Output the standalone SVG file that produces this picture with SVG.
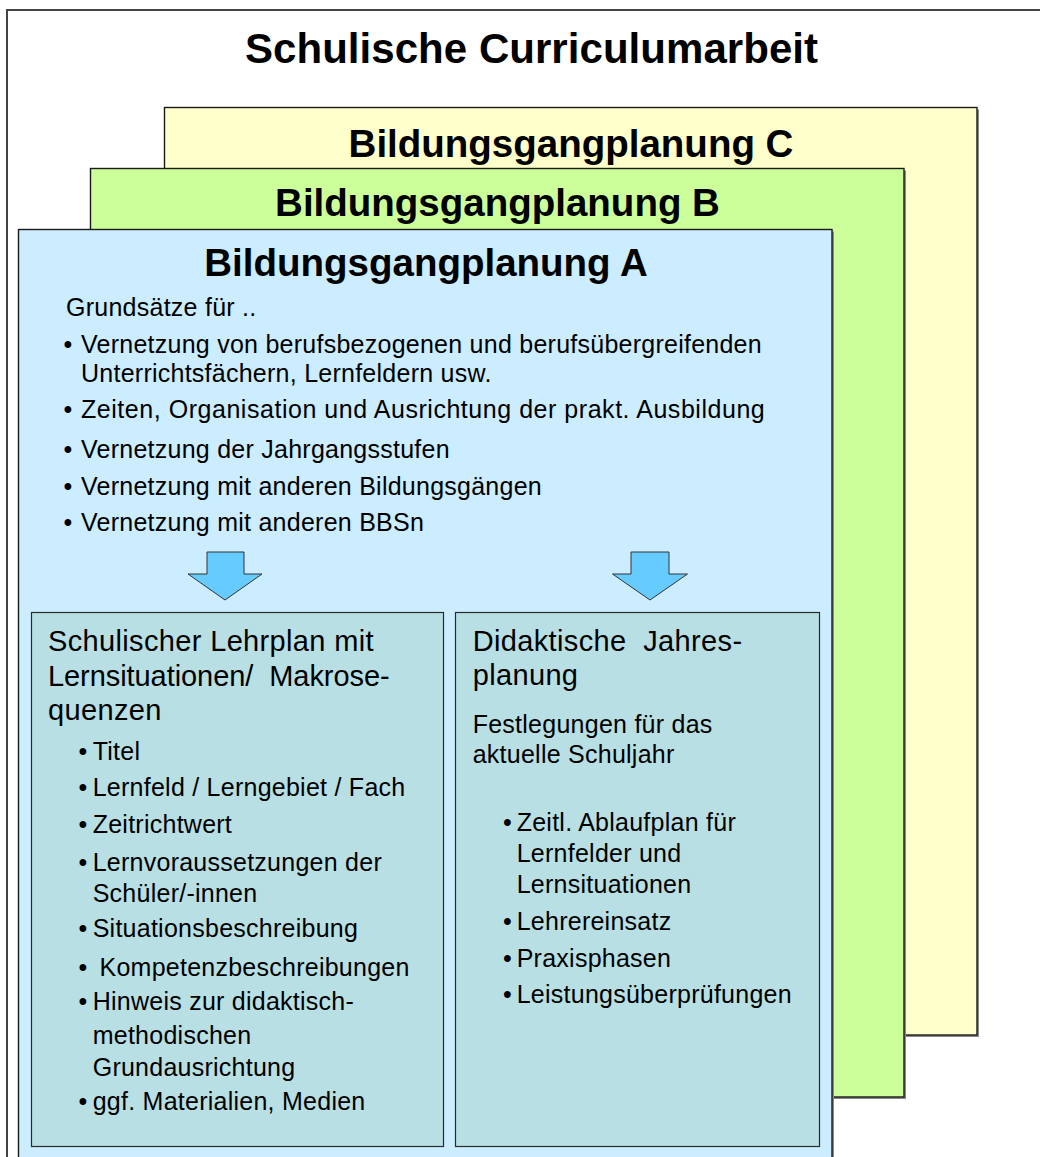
<svg xmlns="http://www.w3.org/2000/svg" width="1040" height="1157" viewBox="0 0 1040 1157">
<style>
text { font-family: "Liberation Sans", Arial, sans-serif; fill: #000; white-space: pre; }
.title { font-size: 42px; font-weight: bold; }
.h { font-size: 38.5px; font-weight: bold; text-anchor: middle; }
.b { font-size: 25px; letter-spacing: 0.25px; }
.hd { font-size: 29px; letter-spacing: 0.35px; }
.box { stroke: #1a1a1a; stroke-width: 1.4; }
.sh { fill: #8a8a8a; }
.inner { fill: #B8DFE3; stroke: #2a2a2a; stroke-width: 1.2; }
.arrow { fill: #66CCFF; stroke: #333; stroke-width: 1; }
</style>
<rect x="0" y="0" width="1040" height="1157" fill="#fff"/>
<rect x="7" y="10" width="1100" height="1200" fill="#fff" stroke="#444" stroke-width="2"/>
<text class="title" x="245" y="63" textLength="573" lengthAdjust="spacing">Schulische Curriculumarbeit</text>

<g id="planung-c">
<rect class="sh" x="166.5" y="109.5" width="812.5" height="927.5"/>
<rect class="box" x="164.5" y="107.5" width="812.5" height="927.5" fill="#FFFFCC"/>
<text class="h" x="571" y="156.5">Bildungsgangplanung C</text>
</g>

<g id="planung-b">
<rect class="sh" x="92.5" y="170.5" width="813.5" height="928.5"/>
<rect class="box" x="90.5" y="168.5" width="813.5" height="928.5" fill="#CCFF99"/>
<text class="h" x="497.5" y="216">Bildungsgangplanung B</text>
</g>

<g id="planung-a">
<rect class="sh" x="20.5" y="231.5" width="813.5" height="1000"/>
<rect class="box" x="18.5" y="229.5" width="813.5" height="1000" fill="#CCECFF"/>
<text class="h" x="426" y="276">Bildungsgangplanung A</text>
<text class="b" x="66" y="316">Grundsätze für ..</text>
<text class="b" x="63.5" y="353">•</text>
<text class="b" x="81" y="353">Vernetzung von berufsbezogenen und berufsübergreifenden</text>
<text class="b" x="81" y="382">Unterrichtsfächern, Lernfeldern usw.</text>
<text class="b" x="63.5" y="418">•</text>
<text class="b" x="81" y="418" textLength="684" lengthAdjust="spacing">Zeiten, Organisation und Ausrichtung der prakt. Ausbildung</text>
<text class="b" x="63.5" y="458">•</text>
<text class="b" x="81" y="458">Vernetzung der Jahrgangsstufen</text>
<text class="b" x="63.5" y="495">•</text>
<text class="b" x="81" y="495">Vernetzung mit anderen Bildungsgängen</text>
<text class="b" x="63.5" y="531">•</text>
<text class="b" x="81" y="531">Vernetzung mit anderen BBSn</text>
</g>

<g id="connectors">
<polygon class="arrow" points="207,552 244,552 244,574 262,574 225,600 188,574 207,574"/>
<polygon class="arrow" points="631,552 669,552 669,574 687.5,574 650,600 612.5,574 631,574"/>
</g>

<g id="lehrplan">
<rect class="inner" x="31.5" y="612.5" width="412" height="534"/>
<text class="hd" x="48" y="651">Schulischer Lehrplan mit</text>
<text class="hd" x="48" y="686" textLength="342" lengthAdjust="spacing">Lernsituationen/  Makrose-</text>
<text class="hd" x="48" y="720">quenzen</text>
<text class="b" x="78.5" y="760">•</text>
<text class="b" x="92.7" y="760">Titel</text>
<text class="b" x="78.5" y="796">•</text>
<text class="b" x="92.7" y="796">Lernfeld / Lerngebiet / Fach</text>
<text class="b" x="78.5" y="833">•</text>
<text class="b" x="92.7" y="833">Zeitrichtwert</text>
<text class="b" x="78.5" y="871">•</text>
<text class="b" x="92.7" y="871">Lernvoraussetzungen der</text>
<text class="b" x="92.7" y="902">Schüler/-innen</text>
<text class="b" x="78.5" y="937">•</text>
<text class="b" x="92.7" y="937">Situationsbeschreibung</text>
<text class="b" x="78.5" y="976">•</text>
<text class="b" x="99.5" y="976">Kompetenzbeschreibungen</text>
<text class="b" x="78.5" y="1010">•</text>
<text class="b" x="92.7" y="1010">Hinweis zur didaktisch-</text>
<text class="b" x="92.7" y="1044">methodischen</text>
<text class="b" x="92.7" y="1076">Grundausrichtung</text>
<text class="b" x="78.5" y="1110">•</text>
<text class="b" x="92.7" y="1110">ggf. Materialien, Medien</text>
</g>

<g id="jahresplanung">
<rect class="inner" x="455.5" y="612.5" width="364" height="534"/>
<text class="hd" x="472.7" y="651">Didaktische  Jahres-</text>
<text class="hd" x="472.7" y="685">planung</text>
<text class="b" x="472.7" y="733">Festlegungen für das</text>
<text class="b" x="472.7" y="763">aktuelle Schuljahr</text>
<text class="b" x="503" y="831">•</text>
<text class="b" x="516.7" y="831">Zeitl. Ablaufplan für</text>
<text class="b" x="516.7" y="862">Lernfelder und</text>
<text class="b" x="516.7" y="893">Lernsituationen</text>
<text class="b" x="503" y="930">•</text>
<text class="b" x="516.7" y="930">Lehrereinsatz</text>
<text class="b" x="503" y="967">•</text>
<text class="b" x="516.7" y="967">Praxisphasen</text>
<text class="b" x="503" y="1003">•</text>
<text class="b" x="516.7" y="1003">Leistungsüberprüfungen</text>
</g>
</svg>
